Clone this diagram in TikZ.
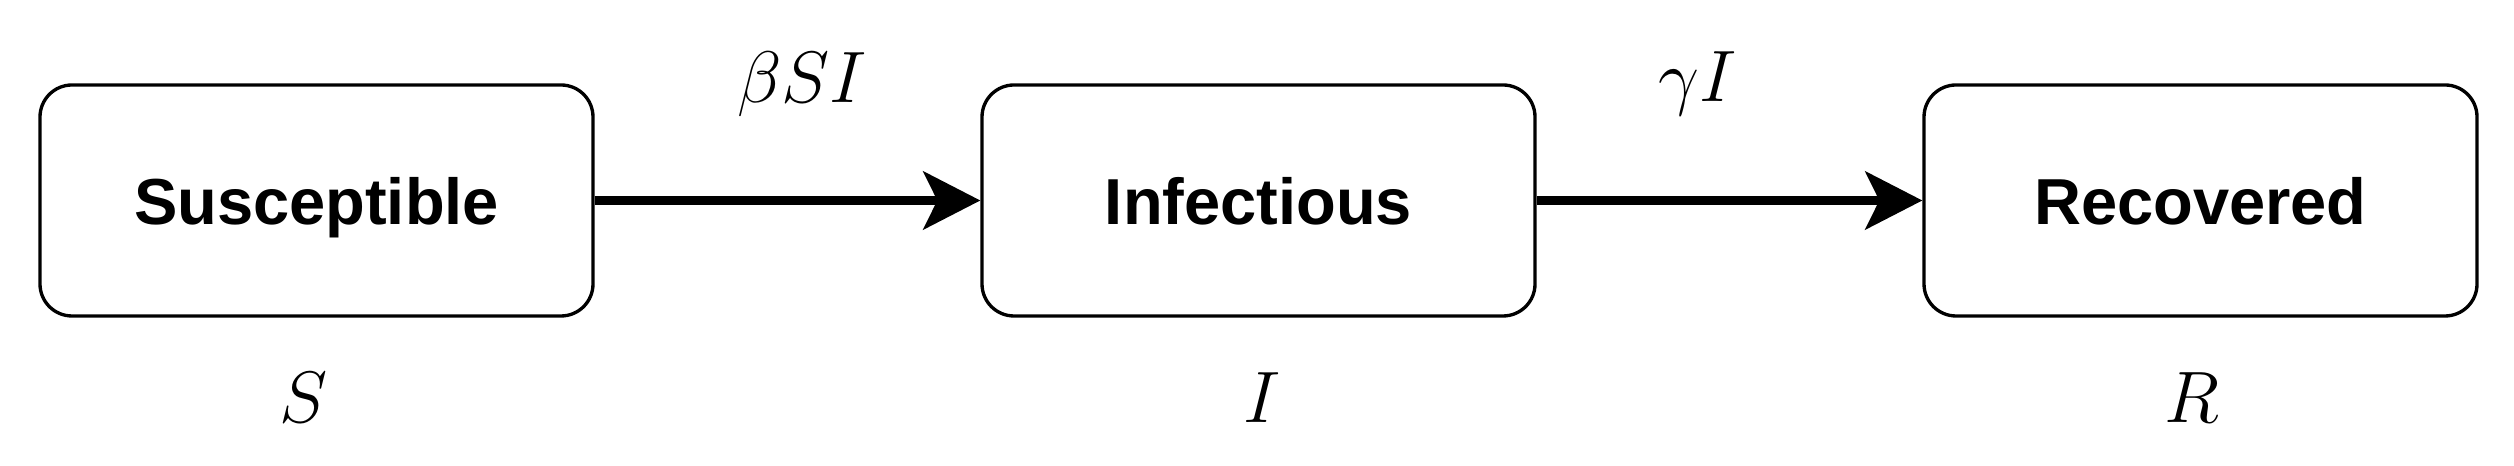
\documentclass[tikz,border=0pt]{standalone}
\usepackage{fontspec}
\newfontfamily\boxfont{Liberation Sans}
\usetikzlibrary{arrows.meta}
\tikzset{
  compartment/.style={draw=black, line width=0.95pt, rounded corners=0.32cm,
    minimum width=5.53cm, minimum height=2.31cm, inner sep=0pt, text depth=0pt,
    font=\boxfont\bfseries\fontsize{18.5}{22}\selectfont},
  flow/.style={line width=2.3pt, -{Stealth[length=0.57cm, width=0.58cm, inset=0.14cm]}},
  mathlabel/.style={anchor=base, inner sep=0pt, font=\fontsize{22}{26}\selectfont}
}
\begin{document}
\begin{tikzpicture}
\useasboundingbox (0,0) rectangle (25.14,-4.66);
\node[compartment] (S) at (3.165,-2.005) {Susceptible};
\node[compartment] (I) at (12.585,-2.005) {Infectious};
\node[compartment] (R) at (22.005,-2.005) {Recovered};
\draw[flow] (S.east) -- (I.west);
\draw[flow] (I.east) -- (R.west);
\node[mathlabel] (lbeta) at (8.02,-1.03) {$\beta S I$};
\node[mathlabel] (lgamma) at (16.98,-1.02) {$\gamma I$};
\node[mathlabel] (lS) at (3.04,-4.23) {$S$};
\node[mathlabel] (lI) at (12.62,-4.23) {$I$};
\node[mathlabel] (lR) at (21.92,-4.23) {$R$};
\end{tikzpicture}
\end{document}
